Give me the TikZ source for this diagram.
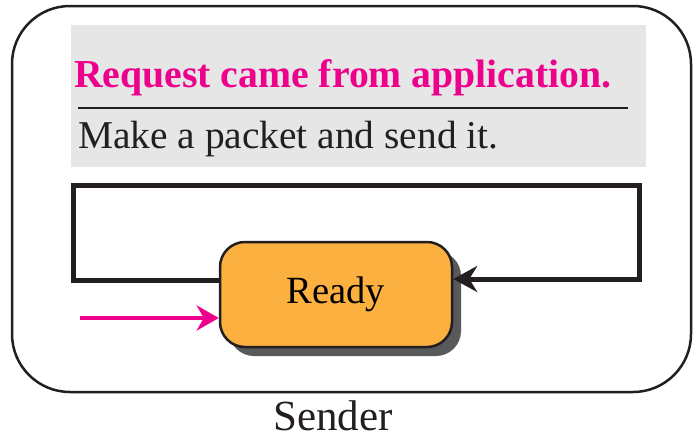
\documentclass[tikz,border=0pt]{standalone}
\usepackage{fontspec}
\setmainfont{Liberation Serif}
\usetikzlibrary{arrows.meta,shadows}
\definecolor{magentapink}{HTML}{EC008C}
\definecolor{stateorange}{HTML}{FBB040}
\definecolor{shadowgray}{HTML}{58595B}
\definecolor{inkblack}{HTML}{231F20}
\definecolor{panelgray}{HTML}{E6E6E6}
\tikzset{
  frame/.style={draw=inkblack, line width=2.5pt, rounded corners=58pt},
  panel/.style={fill=panelgray, draw=none},
  statebox/.style={draw=inkblack, line width=2.5pt, fill=stateorange,
    rounded corners=25pt, minimum width=232pt, minimum height=105pt,
    inner sep=0pt, font=\fontsize{38.5}{40}\selectfont,
    drop shadow={shadow xshift=9pt, shadow yshift=-9pt, fill=shadowgray, opacity=1}},
  looppath/.style={draw=inkblack, line width=5pt, line join=miter,
    -{Stealth[length=24pt, width=26pt, inset=8pt]}},
  entry/.style={draw=magentapink, line width=4pt,
    -{Stealth[length=22pt, width=25pt, inset=7pt]}},
  eventtext/.style={anchor=base west, inner sep=0pt, text=magentapink,
    font=\fontsize{39.7}{42}\selectfont\bfseries},
  actiontext/.style={anchor=base west, inner sep=0pt, text=inkblack,
    font=\fontsize{39.4}{42}\selectfont},
  caption/.style={anchor=base, inner sep=0pt, text=inkblack,
    font=\fontsize{43}{45}\selectfont}
}
\begin{document}
\begin{tikzpicture}[x=1pt, y=-1pt]
  \useasboundingbox (0,0) rectangle (693,440);
  % outer frame of the sender machine
  \draw[frame] (12,6) rectangle (691,392);
  % event / action panel
  \fill[panel] (71,25) rectangle (646,167);
  \node[eventtext] (event) at (74,87) {Request came from application.};
  \draw[inkblack, line width=2pt] (78,108) -- (628,108);
  \node[actiontext] (action) at (78,148) {Make a packet and send it.};
  % the single state
  \node[statebox] (ready) at (336,294.5) {Ready};
  % self transition around the top
  \coordinate (loopsw) at (73,280);
  \coordinate (loopnw) at (73,185);
  \coordinate (loopne) at (639,185);
  \coordinate (loopse) at (639,279);
  \draw[looppath] ([yshift=14.5pt]ready.west) -- (loopsw) -- (loopnw)
    -- (loopne) -- (loopse) -- ([yshift=15.5pt]ready.east);
  % initial transition
  \coordinate (start) at (80,318);
  \draw[entry] (start) -- ([yshift=-23.5pt]ready.west);
  % caption
  \node[caption] (sender) at (333,430) {Sender};
\end{tikzpicture}
\end{document}
